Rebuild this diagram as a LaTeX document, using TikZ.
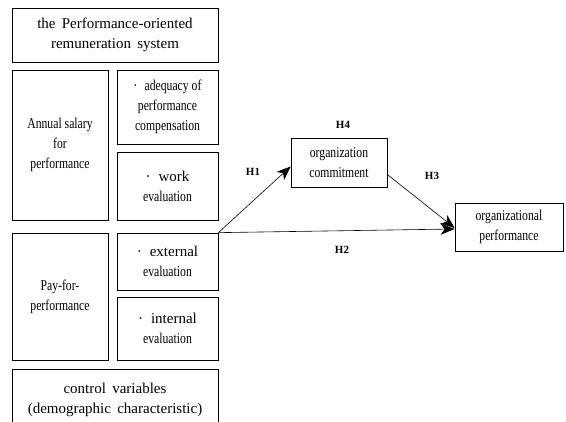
\documentclass[tikz,border=0pt]{standalone}
\usepackage{fontspec}
\setmainfont{Liberation Serif}
\newfontfamily\narrowfont[FakeStretch=0.78]{Liberation Serif}
\usepackage{tikz}
\usetikzlibrary{arrows.meta,positioning,calc}

\begin{document}
\begin{tikzpicture}
[x=1pt,y=-1pt,
 box/.style={draw=black,line width=0.7pt,inner sep=0pt,align=center,
   font=\fontsize{15}{20}\selectfont},
 nbox/.style={box,font=\fontsize{15}{20}\narrowfont},
 lab/.style={font=\fontsize{11}{12}\selectfont\bfseries},
 arr/.style={-{Stealth[length=14pt,width=11pt,inset=4pt]},line width=0.6pt}]
\useasboundingbox (0,0) rectangle (566,422);
\clip (0,0) rectangle (566,422);
\node[box,minimum width=206,minimum height=54] (0) at (115,35) {the\, Performance-oriented\\remuneration\, system};
\node[nbox,minimum width=96,minimum height=150] (1) at (60,145) {Annual salary\\for\\performance};
\node[nbox,minimum width=101,minimum height=74] (2) at (167.5,107) {·\; adequacy of\\performance\\compensation};
\node[box,minimum width=101,minimum height=68] (3) at (167.5,186) {·\; work\\{\narrowfont evaluation}};
\node[nbox,minimum width=96,minimum height=127] (4) at (60,296.5) {Pay-for-\\performance};
\node[box,minimum width=101,minimum height=57] (5) at (167.5,261.5) {·\; external\\{\narrowfont evaluation}};
\node[box,minimum width=101,minimum height=63] (6) at (167.5,328.5) {·\; internal\\{\narrowfont evaluation}};
\node[box,minimum width=206,minimum height=61] (7) at (115,399.5) {control\, variables\\(demographic\, characteristic)};
\node[nbox,minimum width=96,minimum height=49] (8) at (339,162.5) {organization\\commitment};
\node[nbox,minimum width=108,minimum height=48] (9) at (509,227) {organizational\\performance};
\node[lab] at (343,125) {H4};
\node[lab] at (253,172) {H1};
\node[lab] at (432,176) {H3};
\node[lab] at (342,250) {H2};
\draw[arr] (5.north east) -- ([yshift=-4pt]8.west);
\draw[arr] ([yshift=-12pt]8.east) -- ([yshift=-1pt]9.west);
\draw[arr] (5.north east) -- ([yshift=-2pt]9.west);
\end{tikzpicture}
\end{document}
